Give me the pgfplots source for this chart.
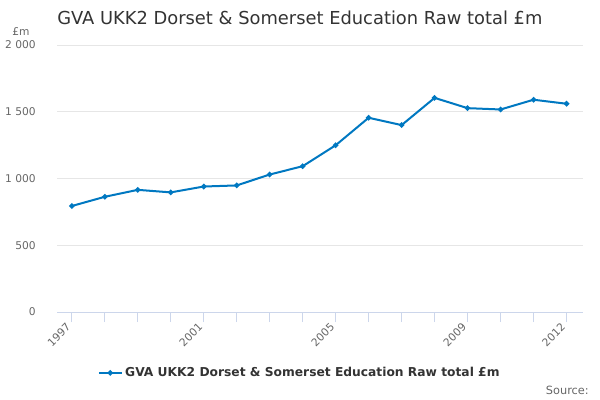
\documentclass[border=0pt]{standalone}
\usepackage{pgfplots}
\pgfplotsset{compat=1.18}
\usepackage{fontspec}
\setmainfont{DejaVu Sans}
\definecolor{ons}{RGB}{0,120,193}
\definecolor{axisc}{RGB}{204,214,235}
\definecolor{gridc}{RGB}{230,230,230}
\definecolor{txt}{RGB}{51,51,51}
\definecolor{tickc}{RGB}{102,102,102}

\begin{document}
\begin{tikzpicture}[x=0.75pt,y=0.75pt]
\useasboundingbox (0,0) rectangle (600,400);
\begin{axis}[
  at={(42.75pt,66pt)}, anchor=south west, scale only axis,
  width=394.5pt, height=200.25pt,
  xmin=1996.55, xmax=2012.5, ymin=0, ymax=2000,
  axis x line*=bottom, axis y line*=left,
  x axis line style={axisc, line width=0.75pt, -},
  y axis line style={draw=none},
  xtick={1997,2001,2005,2009,2012},
  minor xtick={1997,...,2012},
  ytick={0,500,1000,1500,2000},
  tick align=outside,
  major tick length=7.5pt, minor tick length=7.5pt,
  xtick style={axisc, line width=0.75pt},
  minor tick style={axisc, line width=0.75pt},
  ytick style={draw=none},
  ymajorgrids, grid style={gridc, line width=0.75pt},
  /pgf/number format/assume math mode=true,
  x tick label style={/pgf/number format/1000 sep={}, rotate=45, anchor=east,
    font=\fontsize{8}{9}\selectfont, text=tickc},
  y tick label style={/pgf/number format/1000 sep={\ }, anchor=east, xshift=-5pt,
    font=\fontsize{8}{9}\selectfont, text=tickc},
  legend style={at={(0.462,-0.228)}, anchor=center, draw=none, fill=none,
    font=\bfseries\fontsize{9.2}{12}\selectfont, text=txt},
]
\addplot[ons, line width=1.5pt, mark=*, mark size=1.2pt] coordinates {
  (1997,794)(1998,863)(1999,915)(2000,896)(2001,940)(2002,948)
  (2003,1030)(2004,1092)(2005,1249)(2006,1455)(2007,1400)(2008,1604)
  (2009,1527)(2010,1517)(2011,1590)(2012,1560)
};
\legend{GVA UKK2 Dorset \& Somerset Education Raw total £m}
\end{axis}
\node[anchor=west, text=txt, font=\fontsize{13.4}{16}\selectfont, inner sep=0pt] at (57,382) {GVA UKK2 Dorset \& Somerset Education Raw total £m};
\node[anchor=west, text=tickc, font=\fontsize{8}{9}\selectfont, inner sep=0pt] at (12,368) {£m};
\node[anchor=east, text=tickc, font=\fontsize{8.5}{10}\selectfont, inner sep=0pt] at (589,10) {Source:};
\end{tikzpicture}
\end{document}
